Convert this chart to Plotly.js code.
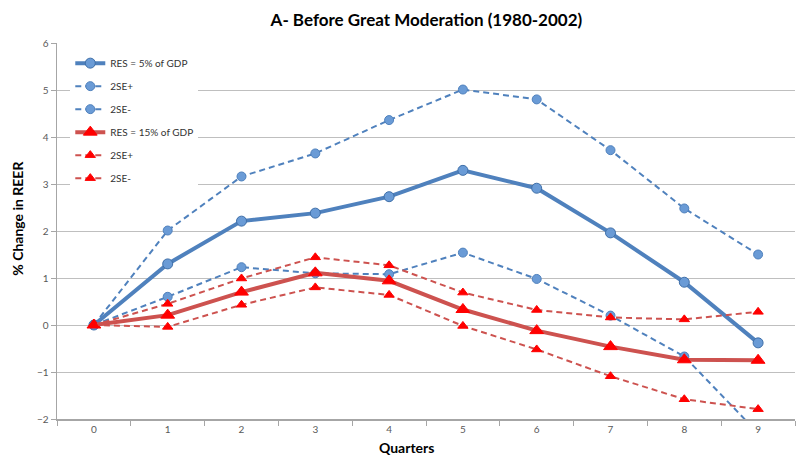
<!DOCTYPE html>
<html>
<head>
<meta charset="utf-8">
<script src="https://cdn.plot.ly/plotly-3.0.1.min.js"></script>
<style>html,body{margin:0;padding:0;background:#fff;}#chart{width:797px;height:456px;}</style>
</head>
<body>
<div id="chart"></div>
<script>
var quarters = ['0','1','2','3','4','5','6','7','8','9'];
var res5 = [0, 1.30, 2.21, 2.38, 2.73, 3.29, 2.91, 1.96, 0.91, -0.38];
var res5Up = [0, 2.01, 3.16, 3.65, 4.36, 5.01, 4.80, 3.72, 2.48, 1.50];
var res5Lo = [0, 0.60, 1.23, 1.10, 1.08, 1.54, 0.98, 0.20, -0.67, -2.30];
var res15 = [0, 0.21, 0.70, 1.11, 0.94, 0.33, -0.12, -0.46, -0.74, -0.75];
var res15Up = [0, 0.45, 0.99, 1.44, 1.27, 0.69, 0.32, 0.16, 0.12, 0.28];
var res15Lo = [0, -0.04, 0.43, 0.80, 0.64, -0.02, -0.52, -1.09, -1.58, -1.79];
var names = ['RES = 5% of GDP', '2SE+', '2SE-', 'RES = 15% of GDP', '2SE+', '2SE-'];

var blue = '#4F81BD', blueFill = '#6A9BD6', redLine = '#CD524F', redMk = '#FF0000';
function tr(y, i, color, width, dash, symbol, msize, mcolor, mline) {
  return {x: quarters, y: y, name: names[i], type: 'scatter', mode: 'lines+markers',
    legendgroup: 'g' + i,
    line: {color: color, width: width, dash: dash},
    marker: {symbol: symbol, size: msize, color: mcolor, line: {color: mline, width: 1}}};
}
var dsh = '6px,4px';
var data = [
  tr(res5, 0, blue, 4, 'solid', 'circle', 10, blueFill, '#3F6FA8'),
  tr(res5Up, 1, blue, 2, dsh, 'circle', 9, blueFill, '#4F81BD'),
  tr(res5Lo, 2, blue, 2, dsh, 'circle', 9, blueFill, '#4F81BD'),
  tr(res15, 3, redLine, 4, 'solid', 'triangle-up', 12, redMk, redMk),
  tr(res15Up, 4, redLine, 2, dsh, 'triangle-up', 9, redMk, redMk),
  tr(res15Lo, 5, redLine, 2, dsh, 'triangle-up', 9, redMk, redMk)
];
var layout = {
  width: 797, height: 456,
  margin: {l: 57, r: 2, t: 43, b: 37},
  paper_bgcolor: '#fff', plot_bgcolor: '#fff',
  font: {family: 'Lato, "Open Sans", sans-serif', color: '#595959'},
  title: {text: '<b>A- Before Great Moderation (1980-2002)</b>', x: 0.535, xanchor: 'center', y: 0.955, yanchor: 'middle',
          font: {size: 17, color: '#000', family: 'Lato, sans-serif'}},
  showlegend: true,
  legend: {x: 0.018, y: 0.985, xanchor: 'left', yanchor: 'top', bgcolor: '#fff',
           font: {size: 10, color: '#333'}, tracegroupgap: 4, itemwidth: 30},
  xaxis: {type: 'category', range: [-0.5, 9.5], tickson: 'boundaries', ticks: 'outside', ticklen: 5,
          tickcolor: '#A6A6A6', showline: true, linecolor: '#A6A6A6', linewidth: 1.5,
          showgrid: false, zeroline: false, tickfont: {size: 10, color: '#595959'}},
  yaxis: {range: [-2, 6], dtick: 1, ticks: 'outside', ticklen: 5, tickcolor: '#A6A6A6',
          showline: true, linecolor: '#A6A6A6', linewidth: 1.5, gridcolor: '#BFBFBF', gridwidth: 1,
          zeroline: false, tickfont: {size: 10, color: '#595959'}},
  annotations: [
    {text: '<b>Quarters</b>', xref: 'paper', yref: 'paper', x: 0.473, y: -0.0745, xanchor: 'center', yanchor: 'middle',
     showarrow: false, font: {size: 14, color: '#000', family: 'Lato, sans-serif'}},
    {text: '<b>% Change in REER</b>', xref: 'paper', yref: 'paper', x: -0.053, y: 0.535, xanchor: 'center', yanchor: 'middle',
     textangle: -90, showarrow: false, font: {size: 14, color: '#000', family: 'Lato, sans-serif'}}
  ]
};
Plotly.newPlot('chart', data, layout, {displayModeBar: false, staticPlot: true});
</script>
</body>
</html>
